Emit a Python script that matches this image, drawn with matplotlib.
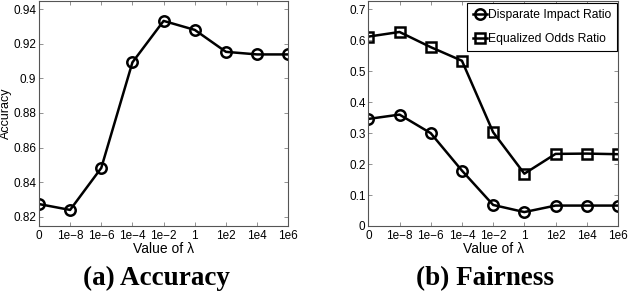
import matplotlib
matplotlib.use('Agg')
import matplotlib.pyplot as plt

# lambda values on the x axis
lambdas = ['0', '1e\u22128', '1e\u22126', '1e\u22124', '1e\u22122', '1', '1e2', '1e4', '1e6']

# (a) accuracy
accuracy = [0.8273, 0.8239, 0.8482, 0.9093, 0.9333, 0.9281, 0.9154, 0.9139, 0.9139]

# (b) fairness
disparate_impact = [0.346, 0.360, 0.300, 0.179, 0.068, 0.045, 0.066, 0.066, 0.066]
equalized_odds = [0.612, 0.627, 0.578, 0.534, 0.303, 0.169, 0.233, 0.234, 0.232]

acc_ticks = [0.82, 0.84, 0.86, 0.88, 0.9, 0.92, 0.94]
acc_ticklabels = ['0.82', '0.84', '0.86', '0.88', '0.9', '0.92', '0.94']
fair_ticks = [0, 0.1, 0.2, 0.3, 0.4, 0.5, 0.6, 0.7]
fair_ticklabels = ['0', '0.1', '0.2', '0.3', '0.4', '0.5', '0.6', '0.7']

plt.rcParams['font.family'] = ['Liberation Sans', 'DejaVu Sans']
tick_fs = 8.5

fig = plt.figure(figsize=(6.28, 2.96), dpi=100)
ax1 = fig.add_axes([0.062, 0.2365, 0.397, 0.760])
ax2 = fig.add_axes([0.5865, 0.2365, 0.3975, 0.760])

x = list(range(len(lambdas)))

def style(ax):
    ax.set_xlim(0, len(lambdas) - 1)
    ax.set_xticks(x)
    ax.set_xticklabels(lambdas, fontsize=tick_fs)
    ax.tick_params(direction='in', top=True, right=True, length=3,
                   width=0.6, colors='#808080', labelcolor='black', pad=3)
    ax.tick_params(axis='y', pad=2)
    for s in ax.spines.values():
        s.set_color('#555555')
        s.set_linewidth(0.8)
    ax.set_xlabel('Value of λ', fontsize=10, labelpad=0)

ax1.plot(x, accuracy, color='black', lw=1.8, marker='o', ms=7.5,
         mfc='none', mew=1.8)
style(ax1)
ax1.set_ylim(0.8146, 0.9448)
ax1.set_yticks(acc_ticks)
ax1.set_yticklabels(acc_ticklabels, fontsize=tick_fs)
ax1.set_ylabel('Accuracy', fontsize=9)
ax1.yaxis.set_label_coords(-0.11, 0.5)

ax2.plot(x, disparate_impact, color='black', lw=1.8, marker='o', ms=7.5,
         mfc='none', mew=1.8, label='Disparate Impact Ratio')
ax2.plot(x, equalized_odds, color='black', lw=1.8, marker='s', ms=6.5,
         mfc='none', mew=1.8, label='Equalized Odds Ratio')
style(ax2)
ax2.set_ylim(0, 0.727)
ax2.set_yticks(fair_ticks)
ax2.set_yticklabels(fair_ticklabels, fontsize=tick_fs)
leg = ax2.legend(loc='upper right', bbox_to_anchor=(0.997, 0.99),
                 borderaxespad=0, fontsize=8.7, handlelength=1.1,
                 handletextpad=0.1, fancybox=False, framealpha=1,
                 borderpad=0.5, labelspacing=0.95)
leg.get_frame().set_edgecolor('black')
leg.get_frame().set_linewidth(0.8)

fig.text(0.249, 0.058, '(a) Accuracy', ha='center', va='center',
         fontsize=19.5, fontweight='bold', family='Liberation Serif')
fig.text(0.772, 0.058, '(b) Fairness', ha='center', va='center',
         fontsize=19.5, fontweight='bold', family='Liberation Serif')

fig.savefig('out.png', dpi=100)
